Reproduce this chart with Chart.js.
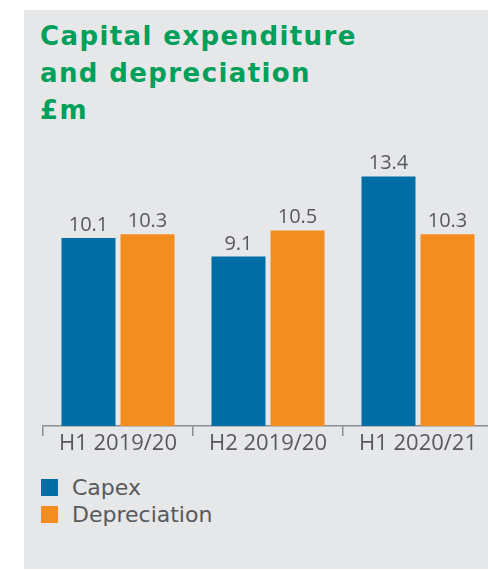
<!DOCTYPE html>
<html>
<head>
<meta charset="utf-8">
<script src="https://cdn.jsdelivr.net/npm/chart.js@4/dist/chart.umd.min.js"></script>
<style>
  html, body { margin: 0; padding: 0; background: #fff; overflow: hidden; }
  body { width: 488px; height: 570px; position: relative; }
  #panel { position: absolute; left: 24px; top: 10px; width: 464px; height: 559px; background: #e6e7e9; overflow: hidden; }
  #title { position: absolute; left: 16px; top: 8px; margin: 0; font: bold 26px "DejaVu Sans"; letter-spacing: 1.4px; line-height: 37px; color: #00a05a; }
  #chart { position: absolute; left: 0; top: 0; }
  #legend { position: absolute; left: 17px; top: 464px; font: 22px "DejaVu Sans"; color: #58595b; }
  .row { display: flex; align-items: center; height: 27px; }
  .box { width: 17px; height: 17px; margin-right: 14px; }
</style>
</head>
<body>
<div id="panel">
  <h1 id="title"></h1>
  <canvas id="chart" width="472" height="460"></canvas>
  <div id="legend"></div>
</div>
<script>
const titleLines = ['Capital expenditure', 'and depreciation', '£m'];
const categories = ['H1 2019/20', 'H2 2019/20', 'H1 2020/21'];
const seriesNames = ['Capex', 'Depreciation'];
const seriesColors = ['#006ea5', '#f48d1f'];
const capexValues = [10.1, 9.1, 13.4];
const depreciationValues = [10.3, 10.5, 10.3];

const textGray = '#58595b';
const axisGray = '#8c8e91';

document.getElementById('title').innerHTML = titleLines.join('<br>');

const valueLabels = {
  id: 'valueLabels',
  afterDatasetsDraw(chart) {
    const ctx = chart.ctx;
    ctx.save();
    ctx.font = '20px "Open Sans"';
    ctx.fillStyle = textGray;
    ctx.textAlign = 'center';
    ctx.textBaseline = 'alphabetic';
    chart.data.datasets.forEach((ds, i) => {
      chart.getDatasetMeta(i).data.forEach((bar, j) => {
        ctx.fillText(ds.data[j].toFixed(1), bar.x, bar.y - 7);
      });
    });
    ctx.restore();
  }
};

const chart = new Chart(document.getElementById('chart'), {
  type: 'bar',
  data: {
    labels: categories,
    datasets: [
      { label: seriesNames[0], data: capexValues, backgroundColor: seriesColors[0] },
      { label: seriesNames[1], data: depreciationValues, backgroundColor: seriesColors[1] }
    ]
  },
  options: {
    responsive: false,
    animation: false,
    barPercentage: 0.915,
    categoryPercentage: 0.787,
    layout: { padding: { left: 19, right: 3, top: 118, bottom: 0 } },
    plugins: {
      legend: { display: false },
      title: { display: false },
      tooltip: { enabled: false }
    },
    scales: {
      x: {
        afterFit: scale => { scale.height = 44; },
        grid: { display: true, drawOnChartArea: false, drawTicks: true, tickLength: 10, color: axisGray, lineWidth: 1.5 },
        border: { display: true, color: axisGray, width: 1.5 },
        ticks: { color: textGray, font: { family: 'Open Sans', size: 22 }, padding: -5, maxRotation: 0, autoSkip: false }
      },
      y: { display: false, min: 0, max: 16 }
    }
  },
  plugins: [valueLabels]
});

const legend = document.getElementById('legend');
chart.data.datasets.forEach(ds => {
  const row = document.createElement('div');
  row.className = 'row';
  row.innerHTML = `<span class="box" style="background:${ds.backgroundColor}"></span><span>${ds.label}</span>`;
  legend.appendChild(row);
});
</script>
</body>
</html>
